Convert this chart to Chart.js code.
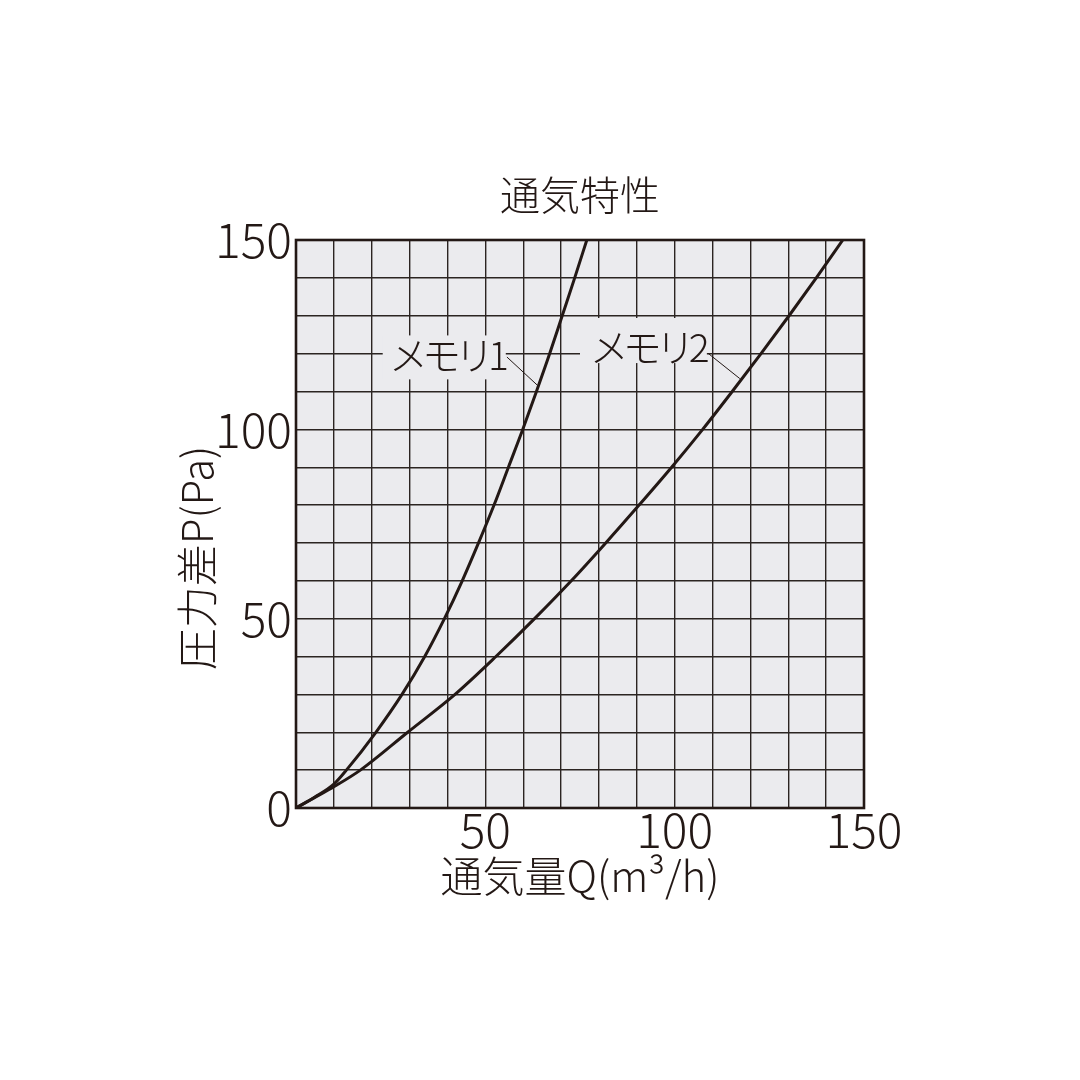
<!DOCTYPE html>
<html>
<head>
<meta charset="utf-8">
<script src="https://cdn.jsdelivr.net/npm/chart.js@4.4.1/dist/chart.umd.min.js"></script>
<style>
    html, body { margin: 0; padding: 0; background: #ffffff; }
    #wrap { width: 1080px; height: 1080px; }
</style>
</head>
<body>
<div id="wrap"><canvas id="airChart" width="1080" height="1080"></canvas></div>
<script>
// 通気特性 data (Q in m3/h, P in Pa)
const memori1Q = [0, 5, 10, 13.3, 21.1, 28.0, 34.0, 39.2, 43.9, 48.2, 52.3, 56.1, 59.9, 63.5, 67.0, 70.3, 73.6, 76.8];
const memori1P = [0, 2.9, 6.3, 10, 20, 30, 40, 50, 60, 70, 80, 90, 100, 110, 120, 130, 140, 150];
const memori2Q = [0, 5, 10, 17, 29.5, 42, 52.8, 63, 72.7, 81.8, 90.6, 99.2, 107.4, 115.2, 122.8, 130.2, 137.4, 144.4];
const memori2P = [0, 2.8, 5.6, 10, 20, 30, 40, 50, 60, 70, 80, 90, 100, 110, 120, 130, 140, 150];
const seriesNames = ["メモリ1", "メモリ2"];
const labeledTicks = [0, 50, 100, 150];

const ink = "#231815";
const gridInk = "#2b2421";
const paper = "#ebebee";
const fontFamily = "'Noto Sans CJK JP', 'Noto Sans', sans-serif";

function toPoints(qs, ps) {
    return qs.map((q, i) => ({ x: q, y: ps[i] }));
}

// label boxes and leader lines, given in data units
const seriesTags = [
    { text: seriesNames[0], at: [39.6, 119.6], box: [22.9, 55.4, 113.2, 124.8], leader: [55.7, 119.1, 63.8, 111.6] },
    { text: seriesNames[1], at: [92.6, 121.6], box: [75.0, 108.5, 117.5, 129.4], leader: [108.8, 120.1, 117.2, 113.4] }
];

const paperPlugin = {
    id: "paper",
    beforeDraw(chart) {
        const { ctx, chartArea: a } = chart;
        ctx.save();
        ctx.fillStyle = paper;
        ctx.fillRect(a.left, a.top, a.right - a.left, a.bottom - a.top);
        ctx.restore();
    },
    beforeDatasetsDraw(chart) {
        const { ctx, scales: { x, y } } = chart;
        ctx.save();
        // gaps in the grid behind the series names
        ctx.fillStyle = paper;
        seriesTags.forEach(t => {
            const x0 = x.getPixelForValue(t.box[0]), x1 = x.getPixelForValue(t.box[1]);
            const y0 = y.getPixelForValue(t.box[3]), y1 = y.getPixelForValue(t.box[2]);
            ctx.fillRect(x0, y0, x1 - x0, y1 - y0);
        });
        ctx.strokeStyle = ink;
        ctx.lineWidth = 1;
        seriesTags.forEach(t => {
            ctx.beginPath();
            ctx.moveTo(x.getPixelForValue(t.leader[0]), y.getPixelForValue(t.leader[1]));
            ctx.lineTo(x.getPixelForValue(t.leader[2]), y.getPixelForValue(t.leader[3]));
            ctx.stroke();
        });
        ctx.fillStyle = ink;
        ctx.font = "300 39px " + fontFamily;
        ctx.letterSpacing = "-6px";
        ctx.textAlign = "center";
        ctx.textBaseline = "middle";
        seriesTags.forEach(t => {
            ctx.fillText(t.text, x.getPixelForValue(t.at[0]), y.getPixelForValue(t.at[1]));
        });
        ctx.restore();
    },
    afterDraw(chart) {
        const { ctx, chartArea: a } = chart;
        ctx.save();
        // frame
        ctx.strokeStyle = ink;
        ctx.lineWidth = 2.6;
        ctx.strokeRect(a.left, a.top, a.right - a.left, a.bottom - a.top);
        // y axis title, sits a little below centre in the original
        ctx.translate(a.left - 99, (a.top + a.bottom) / 2 + 34);
        ctx.rotate(-Math.PI / 2);
        ctx.fillStyle = ink;
        ctx.font = "300 42px " + fontFamily;
        ctx.textAlign = "center";
        ctx.textBaseline = "middle";
        ctx.fillText("圧力差P(Pa)", 0, 0);
        ctx.restore();
    }
};

const ctx = document.getElementById("airChart").getContext("2d");
new Chart(ctx, {
    type: "scatter",
    data: {
        datasets: [
            {
                label: seriesNames[0],
                data: toPoints(memori1Q, memori1P),
                showLine: true,
                borderColor: ink,
                borderWidth: 3,
                pointRadius: 0,
                cubicInterpolationMode: "monotone"
            },
            {
                label: seriesNames[1],
                data: toPoints(memori2Q, memori2P),
                showLine: true,
                borderColor: ink,
                borderWidth: 3,
                pointRadius: 0,
                cubicInterpolationMode: "monotone"
            }
        ]
    },
    options: {
        responsive: false,
        animation: false,
        devicePixelRatio: 1,
        layout: { padding: { left: 100, top: 175, right: 216, bottom: 183 } },
        plugins: {
            legend: { display: false },
            tooltip: { enabled: false },
            title: {
                display: true,
                fullSize: false,
                text: "通気特性",
                color: ink,
                font: { family: fontFamily, size: 40, weight: 300, lineHeight: 1 },
                padding: { top: 0, bottom: 25 }
            }
        },
        scales: {
            x: {
                type: "linear",
                min: 0,
                max: 150,
                border: { display: false },
                grid: { color: gridInk, lineWidth: 1.4, drawTicks: false },
                ticks: {
                    stepSize: 10,
                    autoSkip: false,
                    maxRotation: 0,
                    padding: -2,
                    color: ink,
                    font: { family: fontFamily, size: 48, weight: 300, lineHeight: 1 },
                    callback: v => (v !== 0 && labeledTicks.includes(v)) ? String(v) : ""
                },
                title: {
                    display: true,
                    text: "通気量Q(m³/h)",
                    color: ink,
                    font: { family: fontFamily, size: 42, weight: 300, lineHeight: 1 },
                    padding: { top: 0, bottom: 0 }
                },
                afterFit(scale) { scale.height = 89; }
            },
            y: {
                type: "linear",
                min: 0,
                max: 150,
                border: { display: false },
                grid: { color: gridInk, lineWidth: 1.4, drawTicks: false },
                ticks: {
                    stepSize: 10,
                    autoSkip: false,
                    padding: 4,
                    color: ink,
                    font: { family: fontFamily, size: 48, weight: 300, lineHeight: 1 },
                    callback: v => labeledTicks.includes(v) ? String(v) : ""
                },
                afterFit(scale) { scale.width = 196; }
            }
        }
    },
    plugins: [paperPlugin]
});
</script>
</body>
</html>
